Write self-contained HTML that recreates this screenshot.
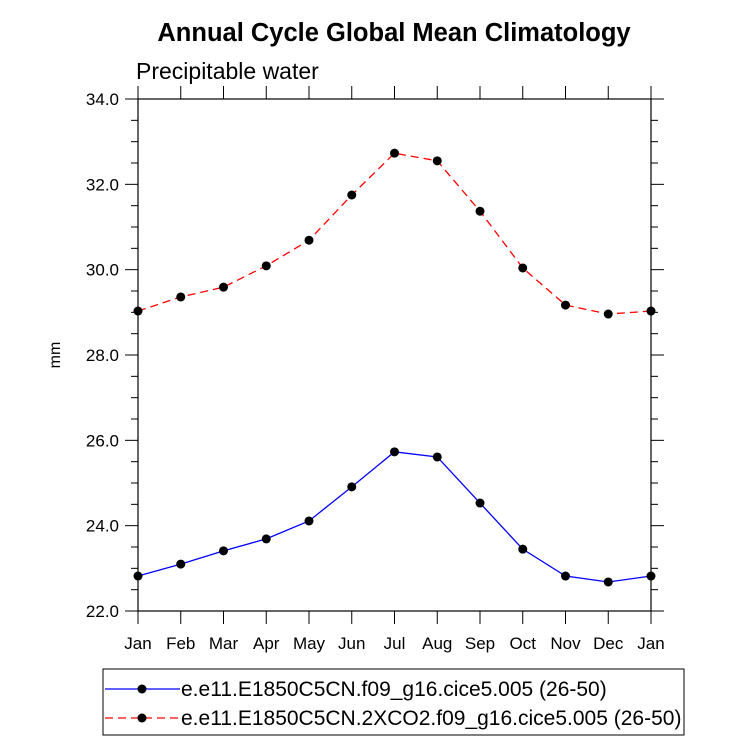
<!DOCTYPE html>
<html><head><meta charset="utf-8"><style>
body{margin:0;background:#fff}
svg{display:block;font-family:"Liberation Sans",Arial,sans-serif}
</style></head><body>
<svg id="chart" width="733" height="744" viewBox="0 0 733 744">
<text x="394" y="41" text-anchor="middle" font-size="25.5" font-weight="bold">Annual Cycle Global Mean Climatology</text>
<text x="136" y="79" font-size="23">Precipitable water</text>
<text x="60" y="355" font-size="16" text-anchor="middle" transform="rotate(-90 60 355)">mm</text>
<g id="axes"></g>
<g id="series"></g>
<rect x="103" y="669" width="581" height="66" fill="none" stroke="#000" stroke-width="1"/>
<g>
<line x1="105" y1="689" x2="180" y2="689" stroke="#0000ff" stroke-width="1.3"/>
<circle cx="142" cy="689" r="4.5" fill="#000"/>
<text x="181" y="696" font-size="21">e.e11.E1850C5CN.f09_g16.cice5.005 (26-50)</text>
</g>
<g>
<line x1="105" y1="718" x2="180" y2="718" stroke="#ff0000" stroke-width="1.3" stroke-dasharray="8,5"/>
<circle cx="142" cy="718" r="4.5" fill="#000"/>
<text x="181" y="725" font-size="21">e.e11.E1850C5CN.2XCO2.f09_g16.cice5.005 (26-50)</text>
</g>
</svg>
<script>
const months = ["Jan","Feb","Mar","Apr","May","Jun","Jul","Aug","Sep","Oct","Nov","Dec","Jan"];
const controlValues = [22.82,23.10,23.41,23.69,24.11,24.91,25.73,25.61,24.53,23.45,22.82,22.68,22.82];
const co2Values = [29.03,29.36,29.59,30.09,30.69,31.75,32.73,32.55,31.37,30.04,29.17,28.96,29.03];
const yTicks = [22,24,26,28,30,32,34];
const yTickLabels = ["22.0","24.0","26.0","28.0","30.0","32.0","34.0"];
const L=138,R=651,T=99,B=611,yMin=22,yMax=34;
const xs=i=>L+(R-L)*i/(months.length-1);
const ys=v=>B-(B-T)*(v-yMin)/(yMax-yMin);
const NS="http://www.w3.org/2000/svg";
const ax=document.getElementById('axes'), se=document.getElementById('series');
function mk(tag,at,parent){const e=document.createElementNS(NS,tag);for(const k in at)e.setAttribute(k,at[k]);parent.appendChild(e);return e;}
const frame=mk('rect',{x:L,y:T,width:R-L,height:B-T,fill:'none',stroke:'#000','stroke-width':1.2},ax);


for(let v=yMin;v<=yMax+1e-9;v+=0.5){
  const major=Math.abs(v-Math.round(v/2)*2)<1e-9, len=major?13:7, y=ys(v);
  const t1=mk('line',{x1:L-len,y1:y,x2:L,y2:y,stroke:'#000','stroke-width':1},ax);
  
  
  const t2=mk('line',{x1:R,y1:y,x2:R+len,y2:y,stroke:'#000','stroke-width':1},ax);
  
  
}
yTicks.forEach((v,i)=>{
  const t=mk('text',{x:L-19,y:ys(v)+6,'text-anchor':'end','font-size':17},ax);
  t.textContent=yTickLabels[i];
  
  
});
months.forEach((m,i)=>{
  const x=xs(i);
  const t1=mk('line',{x1:x,y1:B,x2:x,y2:B+13,stroke:'#000','stroke-width':1},ax);
  
  
  const t2=mk('line',{x1:x,y1:T-13,x2:x,y2:T,stroke:'#000','stroke-width':1},ax);
  
  
  const t=mk('text',{x:x,y:B+38,'text-anchor':'middle','font-size':17},ax);
  t.textContent=m;
  
  
});
function draw(vals,color,dash,name){
  const g=mk('g',{},se);
  
  
  const pl=mk('polyline',{points:vals.map((v,i)=>xs(i)+','+ys(v)).join(' '),fill:'none',stroke:color,'stroke-width':1.3},g);
  if(dash)pl.setAttribute('stroke-dasharray',dash);
  
  
  vals.forEach((v,i)=>{
    const c=mk('circle',{cx:xs(i),cy:ys(v),r:4.5,fill:'#000'},g);
    
    
  });
}
draw(controlValues,'#0000ff',null,'control-series');
draw(co2Values,'#ff0000','8,5','co2-series');
</script>
</body></html>
